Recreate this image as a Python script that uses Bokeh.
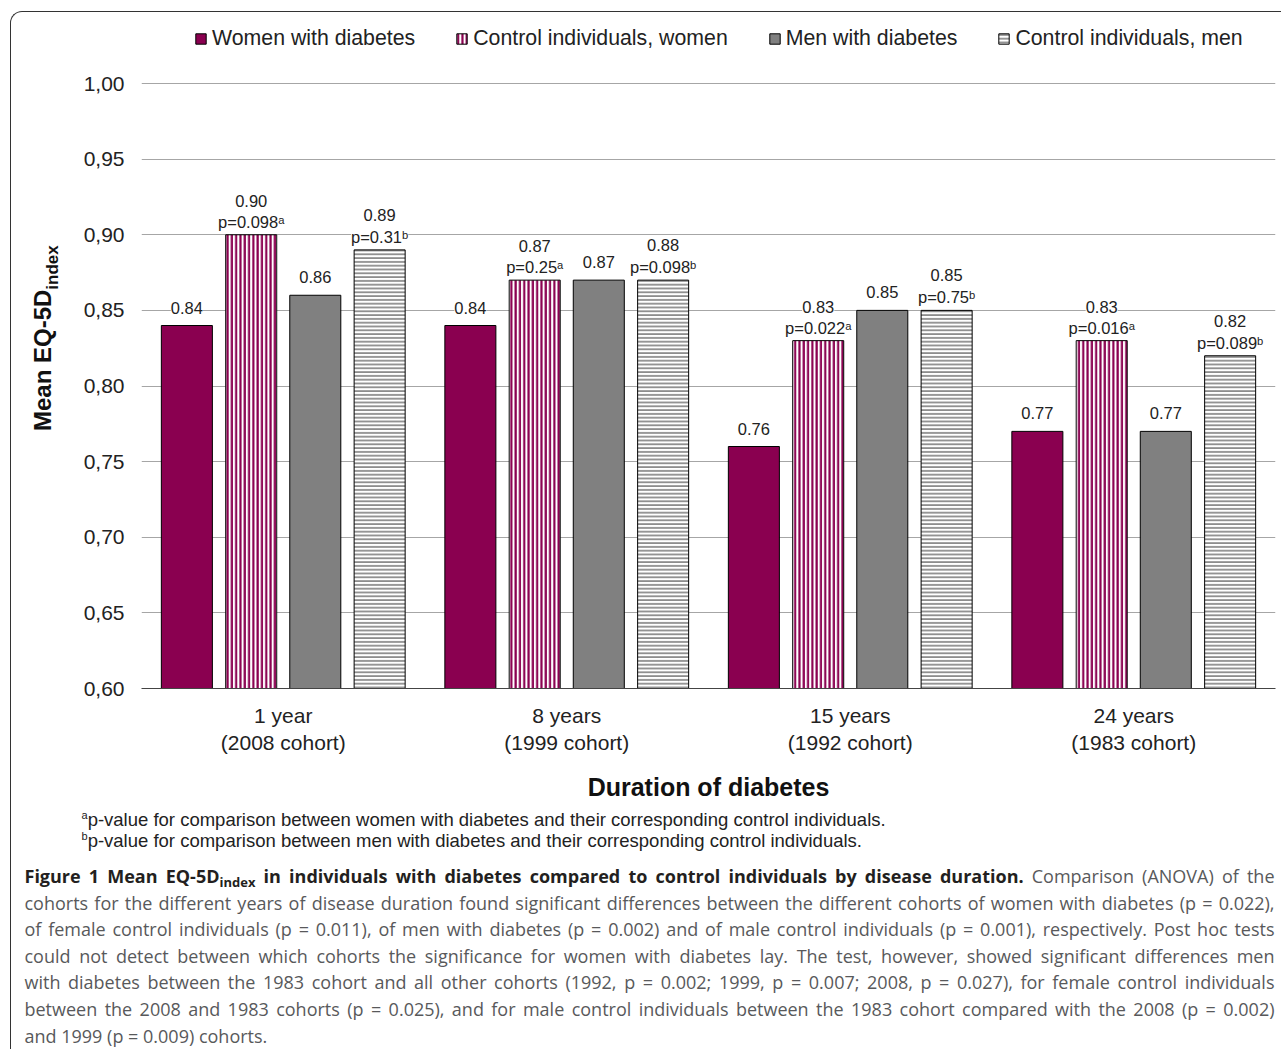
from bokeh.plotting import figure
from bokeh.models import (ColumnDataSource, FactorRange, Range1d, FixedTicker,
                          LabelSet, Legend, LegendItem, Div)
from bokeh.layouts import column, row
from bokeh.core.properties import value
from bokeh.transform import dodge
from bokeh.embed import file_html
from bokeh.resources import INLINE

# ---------------- data ----------------
groups = ["1 year\n(2008 cohort)", "8 years\n(1999 cohort)",
          "15 years\n(1992 cohort)", "24 years\n(1983 cohort)"]
series_names = ["Women with diabetes", "Control individuals, women",
                "Men with diabetes", "Control individuals, men"]
women_diab = [0.84, 0.84, 0.76, 0.77]
control_women = [0.90, 0.87, 0.83, 0.83]
men_diab = [0.86, 0.87, 0.85, 0.77]
control_men = [0.89, 0.87, 0.85, 0.82]
women_diab_text = ["0.84", "0.84", "0.76", "0.77"]
control_women_text = ["0.90", "0.87", "0.83", "0.83"]
control_women_p = ["p=0.098\u1d43", "p=0.25\u1d43", "p=0.022\u1d43", "p=0.016\u1d43"]
men_diab_text = ["0.86", "0.87", "0.85", "0.77"]
control_men_text = ["0.89", "0.88", "0.85", "0.82"]
control_men_p = ["p=0.31\u1d47", "p=0.098\u1d47", "p=0.75\u1d47", "p=0.089\u1d47"]
y_ticks = [0.60, 0.65, 0.70, 0.75, 0.80, 0.85, 0.90, 0.95, 1.00]
y_tick_labels = ["0,60", "0,65", "0,70", "0,75", "0,80", "0,85", "0,90", "0,95", "1,00"]

x_title = "Duration of diabetes"
y_title = "Mean EQ-5D"
y_title_sub = "index"
footnote_marks = ["a", "b"]
footnotes = ["p-value for comparison between women with diabetes and their corresponding control individuals.",
             "p-value for comparison between men with diabetes and their corresponding control individuals."]
caption_bold_a = "Figure 1 Mean EQ-5D"
caption_bold_sub = "index"
caption_bold_b = " in individuals with diabetes compared to control individuals by disease duration."
caption_first_regular = "Comparison (ANOVA) of the"
caption_lines = [
    "cohorts for the different years of disease duration found significant differences between the different cohorts of women with diabetes (p = 0.022),",
    "of female control individuals (p = 0.011), of men with diabetes (p = 0.002) and of male control individuals (p = 0.001), respectively. Post hoc tests",
    "could not detect between which cohorts the significance for women with diabetes lay. The test, however, showed significant differences men",
    "with diabetes between the 1983 cohort and all other cohorts (1992, p = 0.002; 1999, p = 0.007; 2008, p = 0.027), for female control individuals",
    "between the 2008 and 1983 cohorts (p = 0.025), and for male control individuals between the 1983 cohort compared with the 2008 (p = 0.002)",
    "and 1999 (p = 0.009) cohorts.",
]

# ---------------- styles / layout ----------------
MAROON = "#8a0050"
GRAY = "#808080"
FONT = "Liberation Sans"
CAP_FONT = "Open Sans"

PX_PER_UNIT = 1512.5          # vertical scale: 0.05 units = 75.6 px
FRAME_H = 672                 # frame reaches up to the legend row (no visible frame outline)
Y_END = 0.6 + FRAME_H / PX_PER_UNIT

p = figure(x_range=FactorRange(*groups), y_range=Range1d(0.6, Y_END),
           width=1220, height=796, output_backend="svg", toolbar_location=None,
           min_border_left=80, min_border_right=6, min_border_top=4,
           min_border_bottom=120)
p.outline_line_color = None
p.background_fill_color = "white"
p.border_fill_color = "white"

offsets = [-0.34, -0.113, 0.113, 0.34]
W = 0.18
src = ColumnDataSource(dict(group=groups, wd=women_diab, cw=control_women,
                            md=men_diab, cm=control_men,
                            wdt=women_diab_text, cwt=control_women_text, cwp=control_women_p,
                            mdt=men_diab_text, cmt=control_men_text, cmp=control_men_p))

r1 = p.vbar(x=dodge("group", offsets[0], range=p.x_range), top="wd", bottom=0.6, width=W,
            source=src, fill_color=MAROON, line_color="black", line_width=1)
r2 = p.vbar(x=dodge("group", offsets[1], range=p.x_range), top="cw", bottom=0.6, width=W,
            source=src, fill_color="white", line_color="black", line_width=1,
            hatch_pattern="|", hatch_color=MAROON, hatch_scale=4.3, hatch_weight=2.2)
r3 = p.vbar(x=dodge("group", offsets[2], range=p.x_range), top="md", bottom=0.6, width=W,
            source=src, fill_color=GRAY, line_color="black", line_width=1)
r4 = p.vbar(x=dodge("group", offsets[3], range=p.x_range), top="cm", bottom=0.6, width=W,
            source=src, fill_color="white", line_color="black", line_width=1,
            hatch_pattern="-", hatch_color=GRAY, hatch_scale=3.8, hatch_weight=1.6)

def labels(ycol, tcol, off, yoff):
    ls = LabelSet(x=dodge("group", off, range=p.x_range), y=ycol, text=tcol,
                  y_offset=yoff, source=src, text_align="center", text_baseline="middle",
                  text_font=value(FONT), text_font_size="16.5px", text_color="#222222",
                  background_fill_color="white")
    p.add_layout(ls)

labels("wd", "wdt", offsets[0], 18)
labels("md", "mdt", offsets[2], 18)
labels("cw", "cwp", offsets[1], 13)
labels("cw", "cwt", offsets[1], 34)
labels("cm", "cmp", offsets[3], 13)
labels("cm", "cmt", offsets[3], 35)

# axes
p.yaxis.ticker = FixedTicker(ticks=y_ticks)
p.yaxis.major_label_overrides = {t: s for t, s in zip(y_ticks, y_tick_labels)}
p.yaxis.axis_line_color = None
p.yaxis.major_tick_line_color = None
p.yaxis.minor_tick_line_color = None
p.yaxis.major_tick_out = 0
p.yaxis.major_label_standoff = 17
p.yaxis.major_label_text_font = FONT
p.yaxis.major_label_text_font_size = "21px"
p.yaxis.major_label_text_color = "#222222"

p.ygrid.ticker = FixedTicker(ticks=y_ticks)
p.ygrid.grid_line_color = "#a6a6a6"
p.ygrid.grid_line_width = 1
p.xgrid.grid_line_color = None

p.xaxis.axis_line_color = "#444444"
p.xaxis.axis_line_width = 1.2
p.xaxis.major_tick_line_color = None
p.xaxis.major_tick_out = 0
p.xaxis.major_label_standoff = 15
p.xaxis.major_label_text_font = FONT
p.xaxis.major_label_text_font_size = "21px"
p.xaxis.major_label_text_color = "#222222"
p.xaxis.major_label_text_line_height = 1.21
p.xaxis.axis_label = x_title
p.xaxis.axis_label_text_font = FONT
p.xaxis.axis_label_text_font_style = "bold"
p.xaxis.axis_label_text_font_size = "25px"
p.xaxis.axis_label_text_color = "#111111"
p.xaxis.axis_label_standoff = 16

# legend in the top strip of the frame
legend = Legend(items=[LegendItem(label=n, renderers=[r]) for n, r in zip(series_names, [r1, r2, r3, r4])],
                orientation="horizontal", location=(53, 637),
                label_text_font=FONT, label_text_font_size="21.3px", label_text_color="#222222",
                glyph_width=13, glyph_height=13, label_standoff=5, spacing=40,
                padding=0, margin=0, border_line_color=None, background_fill_alpha=0)
p.add_layout(legend)

# y-axis title (rotated, with subscript)
ydiv = Div(width=50, height=796, margin=(0, 0, 0, 0), text=(
    "<div style=\"position:relative; left:17.5px; top:418.5px; width:400px; height:28px; "
    "transform-origin:0 0; transform:rotate(-90deg); white-space:nowrap; "
    f"font-family:'{FONT}'; font-weight:bold; font-size:24px; line-height:28px; color:#111111;\">"
    f"{y_title}<span style=\"font-size:17px; vertical-align:-7px; line-height:0;\">{y_title_sub}</span></div>"))

# footnotes
notes_html = "<br>".join(
    f"<span style=\"font-size:11px; vertical-align:7px; line-height:0;\">{m}</span>{t}"
    for m, t in zip(footnote_marks, footnotes))
notes = Div(width=1270, height=55, margin=(0, 0, 0, 0), text=(
    f"<div style=\"font-family:'{FONT}'; font-size:18.5px; line-height:21px; color:#222222; "
    f"padding-left:70.5px; padding-top:1px; white-space:nowrap;\">{notes_html}</div>"))

# caption
jl = "text-align:justify; text-align-last:justify; white-space:nowrap;"
cap_html = (f"<div style=\"{jl}\"><b style=\"color:#231f20;\">{caption_bold_a}"
            f"<span style=\"font-size:13px; vertical-align:-4px; line-height:0;\">{caption_bold_sub}</span>"
            f"{caption_bold_b}</b> {caption_first_regular}</div>")
for i, t in enumerate(caption_lines):
    style = jl if i < len(caption_lines) - 1 else "white-space:nowrap;"
    cap_html += f"<div style=\"{style}\">{t}</div>"
caption = Div(width=1270, height=186, margin=(0, 0, 0, 0), text=(
    f"<div style=\"font-family:'{CAP_FONT}'; font-size:18px; line-height:26.6px; color:#58595b; "
    f"margin-left:13.5px; width:1250px; box-sizing:content-box; padding:0;\">{cap_html}</div>"))

layout = column(row(ydiv, p, spacing=0), notes, caption, spacing=0,
                styles={"margin-left": "10px", "margin-top": "11px",
                        "border-left": "1.5px solid #333333", "border-top": "1.5px solid #333333",
                        "border-top-left-radius": "12px"})

open("out.html", "w").write(file_html(layout, INLINE))
